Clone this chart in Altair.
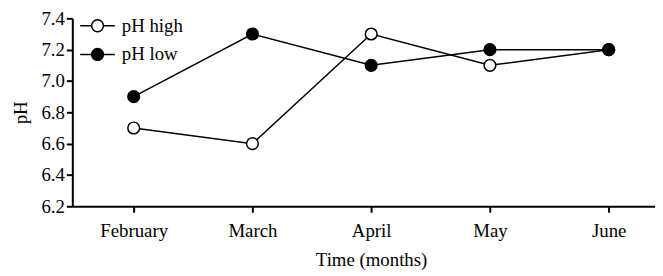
import altair as alt
import pandas as pd

months = ["February", "March", "April", "May", "June"]
month_index = [1, 2, 3, 4, 5]
ph_high = [6.7, 6.6, 7.3, 7.1, 7.2]
ph_low = [6.9, 7.3, 7.1, 7.2, 7.2]
series_names = ["pH high", "pH low"]
y_ticks = [6.2, 6.4, 6.6, 6.8, 7.0, 7.2, 7.4]

rows = []
for name, vals in zip(series_names, [ph_high, ph_low]):
    for i, m, v in zip(month_index, months, vals):
        rows.append({"idx": i, "month": m, "pH": v, "series": name})
df = pd.DataFrame(rows)

FONT = "Liberation Serif, Times New Roman, Times, serif"
label_expr = "[" + ",".join(f"'{m}'" for m in months) + "][datum.value - 1]"

x = alt.X("idx:Q", scale=alt.Scale(domain=[0.483, 5.39], nice=False, zero=False),
          axis=alt.Axis(values=month_index, labelExpr=label_expr, title="Time (months)",
                        titleX=302, grid=False))
y = alt.Y("pH:Q", scale=alt.Scale(domain=[6.2, 7.4], nice=False, zero=False),
          axis=alt.Axis(values=y_ticks, format=".1f", title="pH", grid=False))

legend_path = ("M-1,0L-0.34,0A0.34,0.34 0 0,1 0.34,0L1,0L0.34,0"
               "A0.34,0.34 0 0,1 -0.34,0L-1,0Z")

lines = alt.Chart(df).mark_line(color="black", strokeWidth=1.5).encode(
    x=x, y=y, detail="series:N")
points = alt.Chart(df).mark_point(filled=False, size=140, stroke="black",
                                  strokeWidth=1.5, opacity=1).encode(
    x=x, y=y,
    fill=alt.Fill("series:N",
                  scale=alt.Scale(domain=series_names, range=["white", "black"]),
                  legend=alt.Legend(title=None, orient="none", legendX=7, legendY=-11,
                                    symbolType=legend_path, symbolSize=1225,
                                    symbolStrokeColor="black", symbolStrokeWidth=1.5,
                                    rowPadding=-21, labelOffset=6)))

chart = alt.layer(lines, points).properties(
    width=589, height=190,
    autosize=alt.AutoSizeParams(type="none"),
    padding={"left": 65, "top": 9, "right": 0, "bottom": 68},
).configure_view(stroke=None).configure_axis(
    labelFont=FONT, titleFont=FONT, labelFontSize=19, titleFontSize=19,
    labelColor="black", titleColor="black", titleFontWeight="normal",
    domainColor="black", tickColor="black", domainWidth=2, tickWidth=2, tickSize=6,
).configure_axisY(labelPadding=2, titlePadding=11).configure_axisX(
    labelPadding=10, titlePadding=10
).configure_legend(labelFont=FONT, labelFontSize=19, labelColor="black")

chart.save("out.html", embed_options={"renderer": "svg", "actions": False})
